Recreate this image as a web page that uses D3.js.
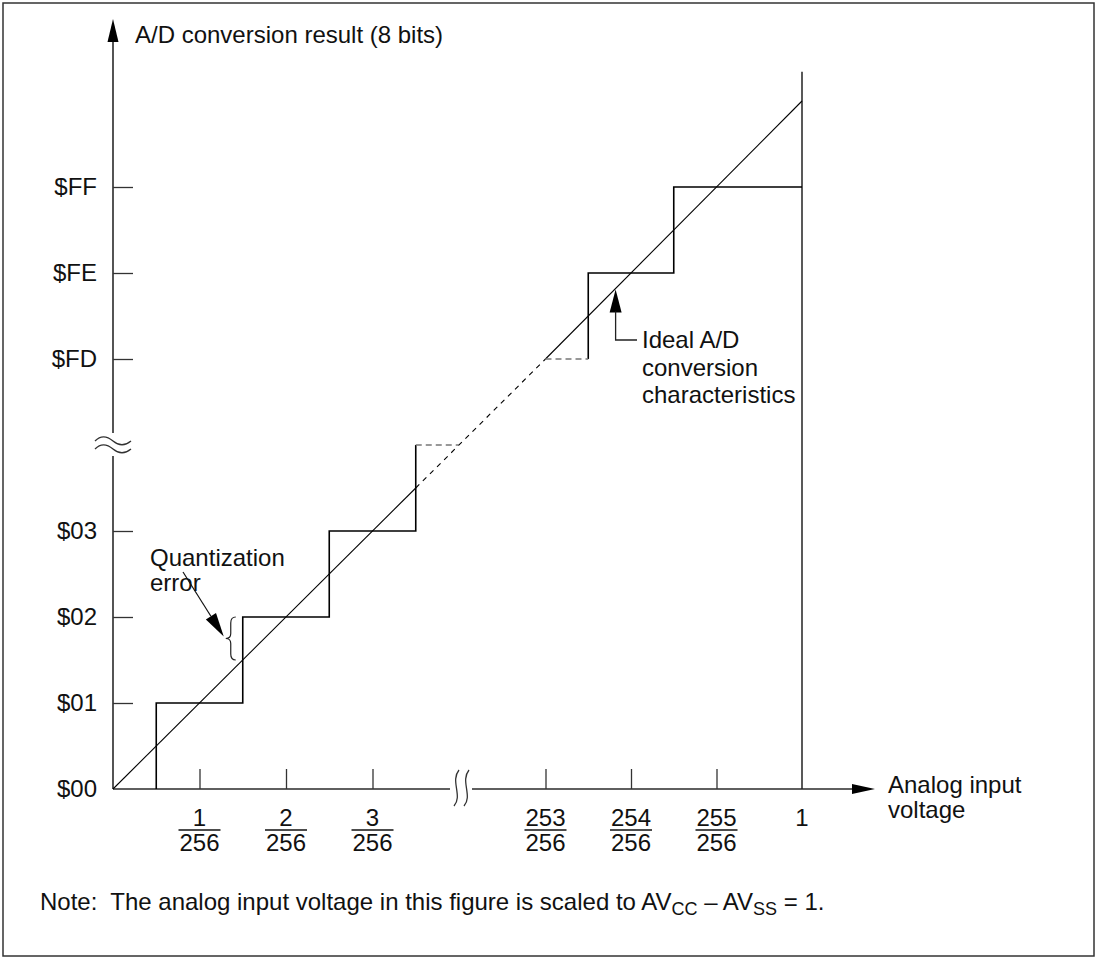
<!DOCTYPE html>
<html>
<head>
<meta charset="utf-8">
<script src="https://cdn.jsdelivr.net/npm/d3@7"></script>
<style>
  html, body { margin: 0; padding: 0; background: #fff; }
  svg { display: block; }
  text { font-family: "Liberation Sans", Arial, Helvetica, sans-serif; fill: #111; }
</style>
</head>
<body>
<svg id="chart" width="1098" height="960"></svg>
<script>
// ---------------- data ----------------
const yTickValues = [1, 2, 3, 253, 254, 255];
const yLabelValues = [0, 1, 2, 3, 253, 254, 255];
const yTickLabels = ["$00", "$01", "$02", "$03", "$FD", "$FE", "$FF"];
const xTickValues = [1, 2, 3, 253, 254, 255];
const xTickNumerators = ["1", "2", "3", "253", "254", "255"];
const xTickDenominator = "256";
const xFullScaleValue = 256;
const xFullScaleLabel = "1";
// real conversion characteristic (staircase), lower and upper parts
const stepsLower = [[0.5, 0], [0.5, 1], [1.5, 1], [1.5, 2], [2.5, 2], [2.5, 3], [3.5, 3], [3.5, 4]];
const stepsUpper = [[253.5, 253], [253.5, 254], [254.5, 254], [254.5, 255], [256, 255]];
const stepsHidden = [[[3.5, 4], [4, 4]], [[253, 253], [253.5, 253]]];
// ideal characteristic
const idealSolid = [[[0, 0], [3.5, 3.5]], [[253, 253], [256, 256]]];
const idealHidden = [[3.5, 3.5], [253, 253]];
const fullScaleLine = [[256, 0], [256, 256.34]];
const axisBreakValue = 4;
const quantStep = [1.5, 2];      // code $02 transition: ideal vs. step
const idealAnnotValue = 253.82;  // where the "Ideal" arrow points

// ---------------- scales ----------------
const x = d3.scaleLinear().domain([0, 5, 253, 256]).range([113, 545.5, 545.5, 802]);
const y = d3.scaleLinear().domain([0, 5, 253, 256]).range([789, 359, 359, 101]);

const svg = d3.select("#chart");
const FS = 24;

// frame
svg.append("rect").attr("x", 3).attr("y", 3).attr("width", 1091).attr("height", 953)
  .attr("fill", "none").attr("stroke", "#333").attr("stroke-width", 1.5);

const line = d3.line().x(d => x(d[0])).y(d => y(d[1]));

// ---------------- axes ----------------
const axisColor = "#2a2a2a";
const x0 = x(0), y0 = y(0);
const yBreak = y(axisBreakValue), xBreak = x(axisBreakValue) + 2;

// y-axis segments
svg.append("line").attr("x1", x0).attr("x2", x0).attr("y1", y0).attr("y2", yBreak + 11)
  .attr("stroke", axisColor).attr("stroke-width", 1.6);
svg.append("line").attr("x1", x0).attr("x2", x0).attr("y1", yBreak - 12).attr("y2", 38)
  .attr("stroke", axisColor).attr("stroke-width", 1.6);
svg.append("path").attr("d", `M${x0},19 L${x0 - 5.5},42 L${x0 + 5.5},42 Z`).attr("fill", "#000");

// y break marks
[-4, 4].forEach(off => {
  const yy = yBreak + off;
  svg.append("path")
    .attr("d", `M${x0 - 18},${yy} c6,-6 12,-5 18,0 s12,5 18,0`)
    .attr("fill", "none").attr("stroke", "#333").attr("stroke-width", 1.3);
});

// x-axis segments
svg.append("line").attr("x1", x0).attr("x2", xBreak - 11).attr("y1", y0).attr("y2", y0)
  .attr("stroke", axisColor).attr("stroke-width", 1.6);
svg.append("line").attr("x1", xBreak + 11).attr("x2", 856).attr("y1", y0).attr("y2", y0)
  .attr("stroke", axisColor).attr("stroke-width", 1.6);
svg.append("path").attr("d", `M875,${y0} L852,${y0 - 5} L852,${y0 + 5} Z`).attr("fill", "#000");

// x break marks
[-5, 5].forEach(off => {
  const xx = xBreak + off;
  svg.append("path")
    .attr("d", `M${xx + 3},${y0 - 19} C${xx - 6},${y0 - 8} ${xx + 7},${y0 + 7} ${xx - 2},${y0 + 17}`)
    .attr("fill", "none").attr("stroke", "#333").attr("stroke-width", 1.3);
});

// y ticks + labels via d3 axis
const yAxis = d3.axisLeft(y).tickValues(yLabelValues).tickSize(0).tickPadding(16)
  .tickFormat(d => yTickLabels[yLabelValues.indexOf(d)]);
const gy = svg.append("g").attr("transform", `translate(${x0},0)`).call(yAxis);
gy.select(".domain").remove();
gy.selectAll("text").attr("font-size", FS).attr("font-family", null).attr("fill", "#111");
const yTicks = d3.axisLeft(y).tickValues(yTickValues).tickSize(-20).tickFormat("");
const gyt = svg.append("g").attr("transform", `translate(${x0},0)`).call(yTicks);
gyt.select(".domain").remove();
gyt.selectAll("line").attr("stroke", "#333").attr("stroke-width", 1.3);

// x ticks via d3 axis
const xTicks = d3.axisBottom(x).tickValues(xTickValues).tickSize(-20).tickFormat("");
const gxt = svg.append("g").attr("transform", `translate(0,${y0})`).call(xTicks);
gxt.select(".domain").remove();
gxt.selectAll("line").attr("stroke", "#333").attr("stroke-width", 1.3);

// fraction labels
const frac = svg.append("g").selectAll("g").data(xTickValues).join("g")
  .attr("transform", d => `translate(${x(d)},0)`);
frac.append("text").attr("y", 826).attr("text-anchor", "middle").attr("font-size", FS)
  .text((d, i) => xTickNumerators[i]);
frac.append("line").attr("x1", -21).attr("x2", 21).attr("y1", 830).attr("y2", 830)
  .attr("stroke", "#111").attr("stroke-width", 1.3);
frac.append("text").attr("y", 851).attr("text-anchor", "middle").attr("font-size", FS)
  .text(xTickDenominator);
svg.append("text").attr("x", x(xFullScaleValue)).attr("y", 826).attr("text-anchor", "middle")
  .attr("font-size", FS).text(xFullScaleLabel);

// ---------------- marks ----------------
// full-scale vertical line
svg.append("path").attr("d", line(fullScaleLine)).attr("stroke", "#222").attr("stroke-width", 1.5).attr("fill", "none");

// ideal line
idealSolid.forEach(seg => {
  svg.append("path").attr("d", line(seg)).attr("fill", "none").attr("stroke", "#000").attr("stroke-width", 1.1);
});
svg.append("path").attr("d", line(idealHidden)).attr("fill", "none").attr("stroke", "#000")
  .attr("stroke-width", 1.1).attr("stroke-dasharray", "5,5");

// staircase
[stepsLower, stepsUpper].forEach(s => {
  svg.append("path").attr("d", line(s)).attr("fill", "none").attr("stroke", "#000").attr("stroke-width", 1.6);
});
stepsHidden.forEach(s => {
  svg.append("path").attr("d", line(s)).attr("fill", "none").attr("stroke", "#777")
    .attr("stroke-width", 1.6).attr("stroke-dasharray", "6,4");
});

// ---------------- annotations ----------------
svg.append("text").attr("x", 135).attr("y", 43).attr("font-size", FS).text("A/D conversion result (8 bits)");

const al = svg.append("text").attr("x", 888).attr("y", 793).attr("font-size", FS);
al.append("tspan").attr("x", 888).text("Analog input");
al.append("tspan").attr("x", 888).attr("dy", 25).text("voltage");

// quantization error
const bx = x(quantStep[0]) - 12;
const bTop = y(quantStep[1]), bBot = y(quantStep[0]);
const bMid = (bTop + bBot) / 2;
svg.append("path")
  .attr("d", `M${bx + 5},${bTop} Q${bx},${bTop} ${bx},${bTop + 6} L${bx},${bMid - 5} Q${bx},${bMid} ${bx - 5},${bMid} Q${bx},${bMid} ${bx},${bMid + 5} L${bx},${bBot - 6} Q${bx},${bBot} ${bx + 5},${bBot}`)
  .attr("fill", "none").attr("stroke", "#222").attr("stroke-width", 1.2);
// arrow to brace
{
  const tx = bx - 7, ty = bMid - 2, sx = 183, sy = 572;
  const ang = Math.atan2(ty - sy, tx - sx);
  const L = 24, W = 6;
  const baseX = tx - L * Math.cos(ang), baseY = ty - L * Math.sin(ang);
  svg.append("line").attr("x1", sx).attr("y1", sy).attr("x2", baseX).attr("y2", baseY)
    .attr("stroke", "#111").attr("stroke-width", 1.2);
  svg.append("path").attr("d",
    `M${tx},${ty} L${baseX + W * Math.sin(ang)},${baseY - W * Math.cos(ang)} L${baseX - W * Math.sin(ang)},${baseY + W * Math.cos(ang)} Z`)
    .attr("fill", "#000");
}
const qt = svg.append("text").attr("font-size", FS);
qt.append("tspan").attr("x", 150).attr("y", 566).text("Quantization");
qt.append("tspan").attr("x", 150).attr("y", 591).text("error");

// ideal characteristic label
{
  const ax = x(idealAnnotValue), ay = y(idealAnnotValue) + 1;
  svg.append("path").attr("d", `M${ax},${ay} L${ax - 6},${ay + 23} L${ax + 6},${ay + 23} Z`).attr("fill", "#000");
  svg.append("path").attr("d", `M${ax},${ay + 22} L${ax},340 L637,340`).attr("fill", "none")
    .attr("stroke", "#222").attr("stroke-width", 1.3);
}
const it = svg.append("text").attr("font-size", FS);
it.append("tspan").attr("x", 642).attr("y", 348).text("Ideal A/D");
it.append("tspan").attr("x", 642).attr("y", 376).text("conversion");
it.append("tspan").attr("x", 642).attr("y", 403).text("characteristics");

// note
const note = svg.append("text").attr("x", 40).attr("y", 910).attr("font-size", FS)
  .style("white-space", "pre");
note.append("tspan").text("Note:  The analog input voltage in this figure is scaled to AV");
note.append("tspan").attr("font-size", 18).attr("dy", 5).text("CC");
note.append("tspan").attr("dy", -5).text(" – AV");
note.append("tspan").attr("font-size", 18).attr("dy", 5).text("SS");
note.append("tspan").attr("dy", -5).text(" = 1.");
</script>
</body>
</html>
